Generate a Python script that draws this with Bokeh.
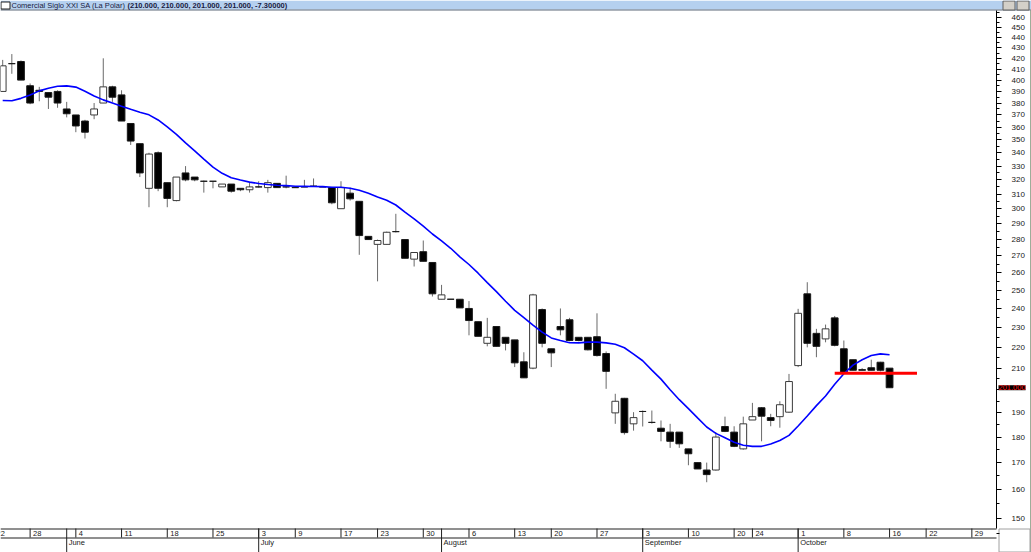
import math
import pandas as pd
from bokeh.plotting import figure
from bokeh.models import Range1d, FixedTicker, NumeralTickFormatter, Label, LinearScale
from bokeh.core.properties import value
from bokeh.embed import file_html
from bokeh.resources import INLINE

# ---------------- data ----------------
TITLE_NAME = "Comercial Siglo XXI SA (La Polar)"
TITLE_VALUES = "(210.000, 210.000, 201.000, 201.000, -7.30000)"

holidays = ["2012-05-21", "2012-07-02", "2012-07-16", "2012-08-15",
            "2012-09-17", "2012-09-18", "2012-09-19", "2012-10-15"]
calendar_start = "2012-05-22"
calendar_end = "2012-11-02"
first_candle = "2012-05-23"

opens = [390, 415, 417, 395, 391, 389, 390, 375, 370, 365,
         370, 380, 394, 387, 363, 347, 314, 340, 318, 305.5,
         325, 322, 319, 319, 315, 317, 314, 313, 315, 314.5,
         317.5, 315, 314.5, 315, 315.5, 315, 314.5, 300, 310.6, 305,
         282, 277, 277, 285, 280, 268, 272.5, 266, 245, 245,
         245, 240, 233, 222, 230.5, 225, 223.7, 213, 210, 239.4,
         219.3, 230.5, 234, 225, 225, 225.3, 217, 190, 196.3, 185.4,
         190.6, 186, 183.6, 182, 182, 175.3, 170, 167.2, 167.2, 184.3,
         182, 175.3, 187, 192.2, 188, 188.4, 190.3, 211.2, 248, 227,
         224.2, 235, 219.3, 214, 209.3, 210.2, 212.8, 210]
highs = [418.5, 424, 418, 397, 394, 389, 391, 381, 370, 366,
         380, 420, 395, 391, 363, 347, 340, 341, 318, 322,
         330, 322, 319.5, 319, 317, 317, 314, 318.5, 319, 320,
         317.5, 323, 314.5, 320, 321, 315, 315, 319, 314.5, 305,
         282, 280, 285, 296.6, 280, 272, 279.4, 266, 253, 245,
         245, 244, 233, 235, 230.5, 225, 223.7, 217.6, 248, 240,
         219.3, 240, 235, 225, 225, 237.4, 218, 198.3, 196.5, 190.3,
         191, 191, 186.8, 185.4, 182, 175.3, 170, 170, 182, 188.4,
         184.4, 188.4, 194.3, 192.5, 189.6, 195, 207.3, 239.8, 254.5, 229.3,
         231.5, 236, 223.4, 214, 210, 214, 213, 210]
lows = [390, 405.7, 400, 379, 381.5, 375, 376, 368, 356, 351,
        366.5, 380, 381, 365, 346, 322, 301, 312, 301, 305,
        319, 319, 311, 314, 315, 311, 312, 311, 314.5, 311,
        314.5, 314, 314.5, 315, 315.5, 315, 303, 300, 305.5, 270.6,
        280, 255, 277, 284.5, 268.5, 263.6, 266.7, 246.5, 245, 245,
        240.3, 226, 225.5, 220.5, 220.5, 218.5, 210.5, 205.5, 209.5, 220,
        210.5, 226, 223, 223, 218.5, 215.5, 200.5, 185.4, 181, 182.6,
        184.3, 185.5, 178.3, 175.7, 175.7, 169, 167.6, 162.7, 167, 182,
        176, 175, 187, 178.3, 184.4, 183.8, 190, 210.5, 220, 215.2,
        222.5, 220.5, 208, 209, 209, 209, 208.5, 201]
closes = [413, 415, 400, 380, 390, 385, 380, 371, 361, 356,
          375, 394, 385, 365, 349, 325, 339, 314, 307, 322,
          320, 320, 319, 319, 317, 312, 313, 315, 315, 318,
          314.5, 315, 314.5, 315, 315.5, 315, 304, 314.5, 306.7, 282.5,
          280, 279.4, 284.6, 285, 268.5, 272, 266.7, 248, 247.4, 245,
          240.3, 233.6, 225.5, 225, 220.5, 222, 212.5, 205.5, 247.4, 222,
          217.3, 228.8, 223.4, 223.4, 218.8, 216, 208.5, 195, 181.8, 188,
          190.6, 186, 182.3, 178.3, 177.3, 173.4, 167.6, 165.5, 180, 182.3,
          176.3, 185.4, 188.4, 188.6, 186.8, 193.5, 203.8, 237.4, 222, 220.5,
          229.3, 221, 208, 209, 209, 209, 209, 201]
moving_avg = [382.1, 382, 384, 386.9, 390.5, 392.7, 394.5, 394.9, 393.8, 390.1,
              386.1, 382.7, 380, 377.3, 374.7, 372.3, 370.1, 365.9, 360.2, 354.3,
              347.6, 341.4, 335.2, 329.2, 324.7, 321.5, 319.9, 318.4, 317.4, 316.7,
              316.2, 315.9, 315.5, 315.4, 315.3, 315.2, 314.8, 314.7, 314, 312.6,
              310.5, 307.9, 305.7, 302.5, 297.7, 293.3, 288.6, 283.5, 279.1, 274.6,
              269.4, 264.8, 259.7, 254.3, 249.2, 243.9, 239, 235.1, 231.2, 227.6,
              224.7, 223.4, 222.3, 222.2, 222.6, 222.6, 222.2, 221.5, 219.8, 216.7,
              213.5, 209.1, 204.9, 200.1, 195.7, 191.8, 187.9, 184.1, 181.5, 179.7,
              177.9, 176.7, 176.3, 176.3, 177.2, 178.6, 180.7, 184.5, 188.7, 193.1,
              197.3, 202.6, 207.4, 211.4, 214, 216, 216.8, 216.4]

day_tick_dates = ["2012-05-22", "2012-05-28", "2012-06-04", "2012-06-11", "2012-06-18",
                  "2012-06-25", "2012-07-03", "2012-07-09", "2012-07-17", "2012-07-23",
                  "2012-07-30", "2012-08-06", "2012-08-13", "2012-08-20", "2012-08-27",
                  "2012-09-03", "2012-09-10", "2012-09-20", "2012-09-24", "2012-10-01",
                  "2012-10-08", "2012-10-16", "2012-10-22", "2012-10-29"]
month_tick_dates = ["2012-06-01", "2012-07-03", "2012-08-01", "2012-09-03", "2012-10-01"]
month_names = ["June", "July", "August", "September", "October"]

price_ticks = list(range(150, 461, 10))
price_minor = list(range(145, 466, 5))

support_level = 207.6
support_from, support_to = "2012-10-05", "2012-10-19"
last_price = 201.0
last_price_text = "201.000"
covered_tick = 200             # axis label hidden under the last-price marker

# ---------------- layout constants ----------------
W, H = 1031, 552
FW = 996                       # width of the candle pane (axis line position)
TITLE_H = 10
STRIP_H = 24
ROW_SPLIT = 15
P_LO, P_HI = 146.7, 467.4      # prices at bottom / top edge of the price pane
k = math.log(P_HI / P_LO) / (H - STRIP_H - TITLE_H)
y_lo = P_LO * math.exp(-STRIP_H * k)
y_hi = P_HI * math.exp(TITLE_H * k)

cal = pd.bdate_range(calendar_start, calendar_end, freq="C", holidays=holidays)
pos = {d.strftime("%Y-%m-%d"): i for i, d in enumerate(cal)}
x_first = pos[first_candle]
xs = list(range(x_first, x_first + len(opens)))
PX_PER_DAY = 9.143
X_LO = 0.76
X_AXIS = X_LO + FW / PX_PER_DAY
X_HI = X_LO + W / PX_PER_DAY

FONT = value("Liberation Sans")
INK = "#202020"

p = figure(width=W, height=H, output_backend="svg", toolbar_location=None,
           y_axis_type="log", y_axis_location="right", x_axis_location=None,
           x_range=Range1d(X_LO, X_HI), y_range=Range1d(y_lo, y_hi),
           min_border=0, outline_line_color=None,
           background_fill_color="white", border_fill_color="white")
p.extra_x_ranges = {"px": Range1d(0, W)}
p.extra_y_ranges = {"px": Range1d(0, H)}
p.extra_x_scales = {"px": LinearScale()}
p.extra_y_scales = {"px": LinearScale()}
p.grid.grid_line_color = None

# right price axis, drawn at the right edge of the candle pane
ax = p.yaxis[0]
ax.fixed_location = X_AXIS
ax.ticker = FixedTicker(ticks=price_ticks, minor_ticks=price_minor)
ax.formatter = NumeralTickFormatter(format="0")
ax.major_label_overrides = {covered_tick: ""}
ax.bounds = (P_LO, P_HI)
ax.axis_line_color = "black"
ax.major_tick_line_color = "black"
ax.minor_tick_line_color = "black"
ax.major_tick_in = 0
ax.major_tick_out = 5
ax.minor_tick_in = 0
ax.minor_tick_out = 3
ax.major_label_standoff = 10
ax.major_label_text_font = "Liberation Sans"
ax.major_label_text_font_size = "8px"
ax.major_label_text_color = INK

# title bar
p.quad(left=[0], right=[W], bottom=[H - TITLE_H], top=[H], x_range_name="px",
       y_range_name="px", fill_color="#b5d0ef", line_color=None)
p.segment(x0=[0], y0=[H - TITLE_H + 0.5], x1=[W], y1=[H - TITLE_H + 0.5], x_range_name="px",
          y_range_name="px", line_color="#808080", line_width=1)
p.quad(left=[0.5], right=[9.5], bottom=[H - 8.5], top=[H - 1.5], x_range_name="px",
       y_range_name="px", fill_color="white", line_color=INK, line_width=1)
p.quad(left=[W - 28.5, W - 14.5], right=[W - 16.5, W - 2.5], bottom=[H - 9.5, H - 9.5],
       top=[H - 0.5, H - 0.5], x_range_name="px", y_range_name="px",
       fill_color="#d4d0c8", line_color="#606060", line_width=1)
p.text(x=[11], y=[H - TITLE_H / 2], text=[TITLE_NAME], x_range_name="px", y_range_name="px",
       text_font=FONT, text_font_size="7.5px", text_baseline="middle", text_color="#1a1a40")
p.text(x=[127], y=[H - TITLE_H / 2], text=[TITLE_VALUES], x_range_name="px", y_range_name="px",
       text_font=FONT, text_font_size="7.5px", text_font_style="bold", text_baseline="middle",
       text_color="#1a1a40")
# window border on the right edge
p.segment(x0=[W - 0.5], y0=[0], x1=[W - 0.5], y1=[H - TITLE_H], x_range_name="px",
          y_range_name="px", line_color="#3c5a32", line_width=1)

# candles
up_x = [x for x, o, c in zip(xs, opens, closes) if c > o]
dn_x = [x for x, o, c in zip(xs, opens, closes) if c <= o]
up_top = [c for o, c in zip(opens, closes) if c > o]
up_bot = [o for o, c in zip(opens, closes) if c > o]
dn_top = [o for o, c in zip(opens, closes) if c <= o]
dn_bot = [c for o, c in zip(opens, closes) if c <= o]

p.segment(x0=xs, y0=lows, x1=xs, y1=highs, line_color="#6a6a6a", line_width=1)
p.vbar(x=up_x, top=up_top, bottom=up_bot, width=0.74, fill_color="white",
       line_color="#3a3a3a", line_width=1)
p.vbar(x=dn_x, top=dn_top, bottom=dn_bot, width=0.74, fill_color="black",
       line_color="#1a1a1a", line_width=1)

# moving average
p.line(x=xs, y=moving_avg, line_color="#0000ff", line_width=1.6)

# support line
p.segment(x0=[pos[support_from]], y0=[support_level], x1=[pos[support_to]], y1=[support_level],
          line_color="#ff0000", line_width=3)

# date strip
p.segment(x0=[0, 0], y0=[STRIP_H - 0.5, ROW_SPLIT - 0.5], x1=[FW, FW],
          y1=[STRIP_H - 0.5, ROW_SPLIT - 0.5], x_range_name="px",
          y_range_name="px", line_color=INK, line_width=1)
p.quad(left=[FW + 2.5], right=[W - 1.5], bottom=[0.5], top=[STRIP_H - 0.5], x_range_name="px",
       y_range_name="px", fill_color="white", line_color="#a0a0a0", line_width=1)
dx = [pos[d] for d in day_tick_dates]
p.segment(x0=dx, y0=[STRIP_H] * len(dx), x1=dx, y1=[ROW_SPLIT] * len(dx), y_range_name="px",
          line_color=INK, line_width=1)
p.text(x=dx, y=[19.5] * len(dx), text=[str(pd.Timestamp(d).day) for d in day_tick_dates],
       y_range_name="px", x_offset=3, text_font=FONT, text_font_size="7.5px",
       text_baseline="middle", text_color=INK)
mx = [pos[d] for d in month_tick_dates]
p.segment(x0=mx, y0=[STRIP_H] * len(mx), x1=mx, y1=[0] * len(mx), y_range_name="px",
          line_color=INK, line_width=1)
p.text(x=mx, y=[10] * len(mx), text=month_names, y_range_name="px", x_offset=2,
       text_font=FONT, text_font_size="7.5px", text_baseline="middle", text_color=INK)

# last price marker on the axis
p.add_layout(Label(x=FW + 2, y=last_price, x_units="data", y_units="data", x_range_name="px",
                   text=last_price_text, text_color="#ff1a1a", text_font="Liberation Sans",
                   text_font_size="7.5px", text_baseline="middle", text_align="left",
                   background_fill_color="black", level="overlay"))

open("out.html", "w").write(file_html(p, INLINE))
